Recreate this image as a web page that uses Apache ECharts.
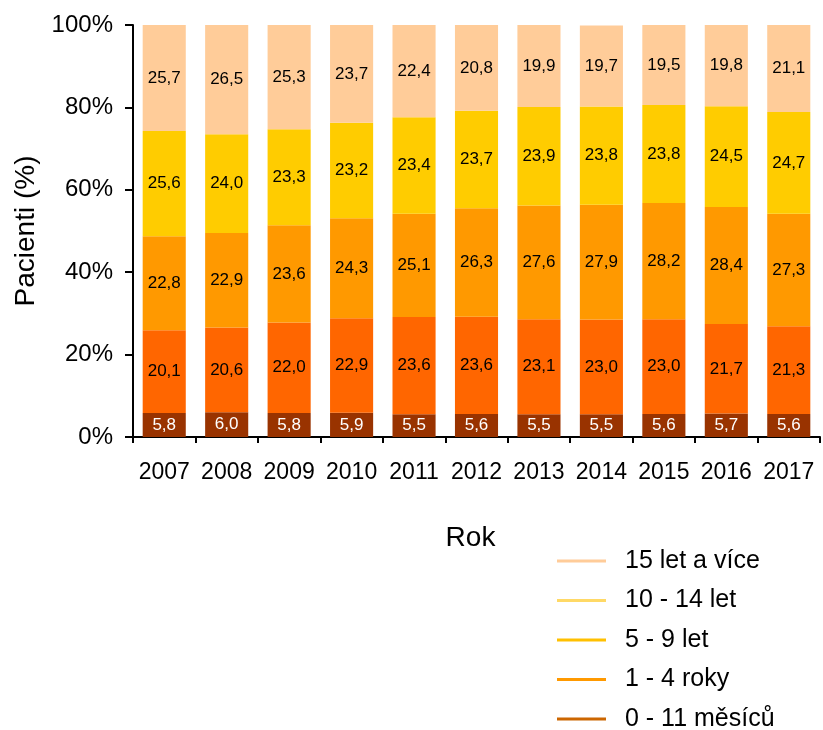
<!DOCTYPE html>
<html>
<head>
<meta charset="utf-8">
<script src="https://cdn.jsdelivr.net/npm/echarts@6/dist/echarts.min.js"></script>
<style>
  html, body { margin: 0; padding: 0; background: #fff; }
  #chart { width: 823px; height: 730px; }
</style>
</head>
<body>
<div id="chart"></div>
<script>
const years = ['2007', '2008', '2009', '2010', '2011', '2012', '2013', '2014', '2015', '2016', '2017'];

const months0to11 = [5.8, 6.0, 5.8, 5.9, 5.5, 5.6, 5.5, 5.5, 5.6, 5.7, 5.6];
const years1to4 = [20.1, 20.6, 22.0, 22.9, 23.6, 23.6, 23.1, 23.0, 23.0, 21.7, 21.3];
const years5to9 = [22.8, 22.9, 23.6, 24.3, 25.1, 26.3, 27.6, 27.9, 28.2, 28.4, 27.3];
const years10to14 = [25.6, 24.0, 23.3, 23.2, 23.4, 23.7, 23.9, 23.8, 23.8, 24.5, 24.7];
const years15plus = [25.7, 26.5, 25.3, 23.7, 22.4, 20.8, 19.9, 19.7, 19.5, 19.8, 21.1];

const yTicks = [0, 20, 40, 60, 80, 100];

const font = 'Liberation Sans, Arial, sans-serif';

// series: name, data, bar colour, legend colour, label colour
const groups = [
  ['0 - 11 měsíců', months0to11, '#993300', '#cc6600', '#ffffff'],
  ['1 - 4 roky', years1to4, '#ff6600', '#ff9900', '#000000'],
  ['5 - 9 let', years5to9, '#ff9900', '#ffc000', '#000000'],
  ['10 - 14 let', years10to14, '#ffcc00', '#ffd966', '#000000'],
  ['15 let a více', years15plus, '#ffcc99', '#ffcc99', '#000000'],
];

const chart = echarts.init(document.getElementById('chart'));

chart.setOption({
  animation: false,
  backgroundColor: '#fff',
  grid: {left: 133, right: 3, top: 25, bottom: 293},
  legend: {
    orient: 'vertical',
    left: 557,
    top: 546,
    height: 260,
    padding: 0,
    icon: 'rect',
    itemWidth: 49,
    itemHeight: 3,
    itemGap: 9.5,
    textStyle: {fontFamily: font, fontSize: 25, color: '#000', padding: [0, 0, 0, 14], lineHeight: 30},
    data: groups.slice().reverse().map(g => ({name: g[0], itemStyle: {color: g[3]}})),
  },
  xAxis: {
    type: 'category',
    data: years,
    name: 'Rok',
    nameLocation: 'middle',
    nameGap: 87,
    nameTextStyle: {fontFamily: font, fontSize: 28, color: '#000', padding: [0, 12, 0, 0]},
    axisLine: {lineStyle: {color: '#000', width: 2}},
    axisTick: {show: true, length: 6, lineStyle: {color: '#000', width: 2}},
    axisLabel: {fontFamily: font, fontSize: 23, color: '#000', margin: 24, interval: 0},
  },
  yAxis: {
    type: 'value',
    min: 0,
    max: 100,
    interval: 20,
    name: 'Pacienti (%)',
    nameLocation: 'middle',
    nameGap: 82,
    nameTextStyle: {fontFamily: font, fontSize: 28, color: '#000'},
    splitLine: {show: false},
    axisLine: {show: true, lineStyle: {color: '#000', width: 2}},
    axisTick: {show: true, length: 8, lineStyle: {color: '#000', width: 2}},
    axisLabel: {
      fontFamily: font, fontSize: 24, color: '#000', margin: 20,
      formatter: v => yTicks.includes(v) ? v + '%' : '',
    },
  },
  series: groups.map(g => ({
    name: g[0],
    type: 'bar',
    stack: 'total',
    barWidth: '69%',
    data: g[1],
    itemStyle: {color: g[2]},
    label: {
      show: true,
      position: 'inside',
      fontFamily: font,
      fontSize: 17,
      color: g[4],
      formatter: p => p.value.toFixed(1).replace('.', ','),
    },
  })),
});
</script>
</body>
</html>
